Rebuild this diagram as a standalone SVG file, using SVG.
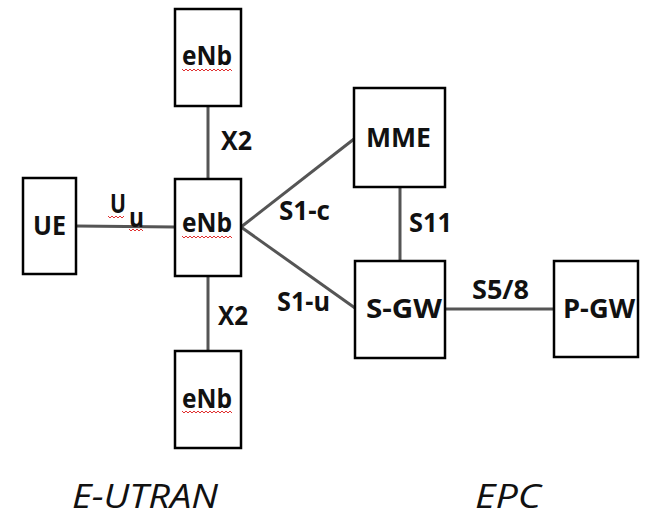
<svg xmlns="http://www.w3.org/2000/svg" width="645" height="517" viewBox="0 0 645 517">
<style>
.box{fill:#fff;stroke:#000;stroke-width:2.5}
.lbl{font-family:"Open Sans","Liberation Sans",sans-serif;font-weight:bold;font-size:27px;fill:#111}
.conn{stroke:#555;stroke-width:3;fill:none}
.sq{stroke:#e03030;stroke-width:1;fill:none}
.cap{font-family:"Open Sans","Liberation Sans",sans-serif;font-style:italic;font-size:32px;fill:#111}
</style>
<rect width="645" height="517" fill="#fff"/>
<g id="connectors">
<line class="conn" x1="208" y1="106" x2="208" y2="179"/>
<line class="conn" x1="76" y1="226" x2="175" y2="227"/>
<line class="conn" x1="208" y1="276" x2="208" y2="351"/>
<line class="conn" x1="241" y1="227" x2="354" y2="139"/>
<line class="conn" x1="241" y1="227" x2="355" y2="308"/>
<line class="conn" x1="400" y1="187" x2="400" y2="261"/>
<line class="conn" x1="445" y1="309" x2="554" y2="309"/>
<text class="lbl" x="221" y="150" textLength="31" lengthAdjust="spacingAndGlyphs">X2</text>
<text class="lbl" x="218" y="325" textLength="30" lengthAdjust="spacingAndGlyphs">X2</text>
<text class="lbl" x="110" y="213" textLength="16" lengthAdjust="spacingAndGlyphs">U</text>
<text class="lbl" x="129" y="227" font-size="19" textLength="15" lengthAdjust="spacingAndGlyphs">u</text>
<path class="sq" d="M108 216 l2 2 l2 -2 l2 2 l2 -2 l2 2 l2 -2 l2 2 l2 -2"/>
<path class="sq" d="M129 229 l2 2 l2 -2 l2 2 l2 -2 l2 2 l2 -2 l2 2"/>
<text class="lbl" x="279" y="220" textLength="51" lengthAdjust="spacingAndGlyphs">S1-c</text>
<text class="lbl" x="277" y="311" textLength="53" lengthAdjust="spacingAndGlyphs">S1-u</text>
<text class="lbl" x="409" y="232" textLength="43" lengthAdjust="spacingAndGlyphs">S11</text>
<text class="lbl" x="472" y="299" textLength="57" lengthAdjust="spacingAndGlyphs">S5/8</text>
</g>
<g id="enb-top">
<rect class="box" x="175" y="9" width="66" height="97"/>
<text class="lbl" x="182" y="65" textLength="50" lengthAdjust="spacingAndGlyphs">eNb</text>
<path class="sq" d="M182 69 l2 2 l2 -2 l2 2 l2 -2 l2 2 l2 -2 l2 2 l2 -2 l2 2 l2 -2 l2 2 l2 -2 l2 2 l2 -2 l2 2 l2 -2 l2 2 l2 -2 l2 2 l2 -2 l2 2 l2 -2 l2 2 l2 -2 l2 2"/>
</g>
<g id="enb-center">
<rect class="box" x="175" y="179" width="66" height="97"/>
<text class="lbl" x="182" y="232" textLength="50" lengthAdjust="spacingAndGlyphs">eNb</text>
<path class="sq" d="M182 236 l2 2 l2 -2 l2 2 l2 -2 l2 2 l2 -2 l2 2 l2 -2 l2 2 l2 -2 l2 2 l2 -2 l2 2 l2 -2 l2 2 l2 -2 l2 2 l2 -2 l2 2 l2 -2 l2 2 l2 -2 l2 2 l2 -2 l2 2"/>
</g>
<g id="enb-bottom">
<rect class="box" x="175" y="351" width="66" height="97"/>
<text class="lbl" x="182" y="408" textLength="50" lengthAdjust="spacingAndGlyphs">eNb</text>
<path class="sq" d="M182 411 l2 2 l2 -2 l2 2 l2 -2 l2 2 l2 -2 l2 2 l2 -2 l2 2 l2 -2 l2 2 l2 -2 l2 2 l2 -2 l2 2 l2 -2 l2 2 l2 -2 l2 2 l2 -2 l2 2 l2 -2 l2 2 l2 -2 l2 2"/>
</g>
<g id="ue">
<rect class="box" x="23" y="178" width="53" height="96"/>
<text class="lbl" x="33" y="235" textLength="33" lengthAdjust="spacingAndGlyphs">UE</text>
</g>
<g id="mme">
<rect class="box" x="354" y="88" width="91" height="99"/>
<text class="lbl" x="366" y="147" textLength="65" lengthAdjust="spacingAndGlyphs">MME</text>
</g>
<g id="sgw">
<rect class="box" x="355" y="261" width="90" height="97"/>
<text class="lbl" x="366" y="318" textLength="76" lengthAdjust="spacingAndGlyphs">S-GW</text>
</g>
<g id="pgw">
<rect class="box" x="554" y="261" width="84" height="96"/>
<text class="lbl" x="563" y="318" textLength="72" lengthAdjust="spacingAndGlyphs">P-GW</text>
</g>
<text class="cap" x="72" y="508" textLength="146" lengthAdjust="spacingAndGlyphs">E-UTRAN</text>
<text class="cap" x="475" y="508" textLength="66" lengthAdjust="spacingAndGlyphs">EPC</text>
</svg>
